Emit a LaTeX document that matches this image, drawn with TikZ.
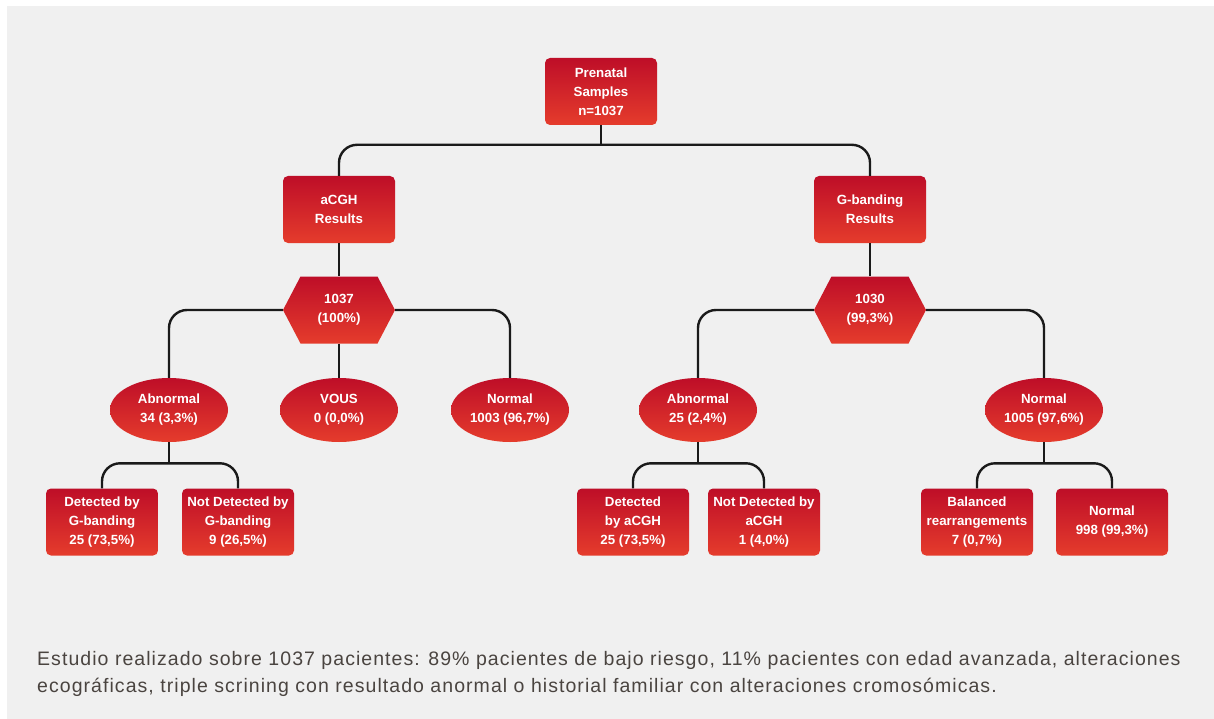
\documentclass[tikz,border=0pt]{standalone}
\usepackage{fontspec}
\setmainfont{Liberation Sans}
\newfontfamily\notefont[LetterSpace=5.4]{Liberation Sans}
\usetikzlibrary{shapes.geometric}
\definecolor{redtop}{RGB}{190,14,40}
\definecolor{redbot}{RGB}{229,60,44}
\definecolor{panel}{RGB}{240,240,240}
\definecolor{captext}{RGB}{74,68,64}
\definecolor{linkcol}{RGB}{26,26,26}
\begin{document}
\begin{tikzpicture}[x=1pt, y=-1pt,
    redfill/.style={top color=redtop, bottom color=redbot, draw=none},
    boxtext/.style={text=white, font=\fontsize{13.3}{19}\selectfont\bfseries, align=center, inner sep=0pt},
    rbox/.style={redfill, boxtext, rectangle, rounded corners=5pt, minimum width=112pt, minimum height=67pt},
    oval/.style={redfill, boxtext, ellipse, minimum width=118pt, minimum height=64pt},
    link/.style={draw=linkcol, line width=2.4pt, rounded corners=18pt},
    note/.style={anchor=base west, text=captext, font=\notefont\fontsize{19.5}{27}\selectfont, inner sep=0pt}]
    \useasboundingbox (0,0) rectangle (1214,719);
    \fill[panel] (7,6) rectangle (1214,719);
    % top level
    \node[rbox] (samples) at (601,91.5) {Prenatal\\Samples\\n=1037};
    \node[rbox] (acgh) at (339,209.5) {aCGH\\Results};
    \node[rbox] (gband) at (870,209.5) {G-banding\\Results};
    % hexagons
    \foreach \n/\x/\t in {hexA/339/{1037\\(100\%)}, hexB/870/{1030\\(99,3\%)}} {
        \shade[redfill] ({\x-56},310) -- ({\x-38.5},276.5) -- ({\x+38.5},276.5)
            -- ({\x+56},310) -- ({\x+38.5},343.5) -- ({\x-38.5},343.5) -- cycle;
        \node[boxtext, minimum width=112pt, minimum height=67pt] (\n) at (\x,310) {\t};
    }
    % ellipses
    \node[oval] (abnA) at (169,410) {Abnormal\\34 (3,3\%)};
    \node[oval] (vous) at (339,410) {VOUS\\0 (0,0\%)};
    \node[oval] (normA) at (510,410) {Normal\\1003 (96,7\%)};
    \node[oval] (abnB) at (698,410) {Abnormal\\25 (2,4\%)};
    \node[oval] (normB) at (1044,410) {Normal\\1005 (97,6\%)};
    % bottom boxes
    \node[rbox] (detA) at (102,522) {Detected by\\G-banding\\25 (73,5\%)};
    \node[rbox] (notA) at (238,522) {Not Detected by\\G-banding\\9 (26,5\%)};
    \node[rbox] (detB) at (633,522) {Detected\\by aCGH\\25 (73,5\%)};
    \node[rbox] (notB) at (764,522) {Not Detected by\\aCGH\\1 (4,0\%)};
    \node[rbox] (bal) at (977,522) {Balanced\\rearrangements\\7 (0,7\%)};
    \node[rbox] (normC) at (1112,522) {Normal\\998 (99,3\%)};
    % connectors
    \draw[link] (acgh.north) -- ++(0,-31) -| (gband.north);
    \draw[link] (samples.south) -- ++(0,20);
    \draw[link] (acgh.south) -- (hexA.north);
    \draw[link] (gband.south) -- (hexB.north);
    \draw[link] (hexA.west) -| (abnA.north);
    \draw[link] (hexA.east) -| (normA.north);
    \draw[link] (hexA.south) -- (vous.north);
    \draw[link] (hexB.west) -| (abnB.north);
    \draw[link] (hexB.east) -| (normB.north);
    \foreach \e/\l/\r in {abnA/detA/notA, abnB/detB/notB, normB/bal/normC} {
        \draw[link] (\l.north) -- ++(0,-25) -| (\r.north);
        \draw[link] (\e.south) -- ++(0,21);
    }
    % caption
    \node[note] (note1) at (37,665) {Estudio realizado sobre 1037 pacientes: 89\% pacientes de bajo riesgo, 11\% pacientes con edad avanzada, alteraciones};
    \node[note] (note2) at (37,692) {ecográficas, triple scrining con resultado anormal o historial familiar con alteraciones cromosómicas.};
\end{tikzpicture}
\end{document}
